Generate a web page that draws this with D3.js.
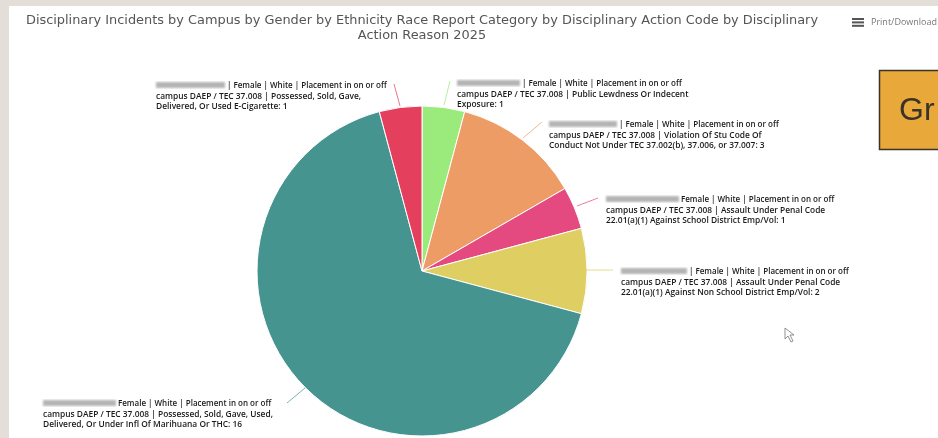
<!DOCTYPE html>
<html>
<head>
<meta charset="utf-8">
<script src="https://cdn.jsdelivr.net/npm/d3@7"></script>
<style>
html, body { margin: 0; padding: 0; background: #e3dfd8; overflow: hidden; }
svg { display: block; filter: blur(0.4px); }
</style>
</head>
<body>
<div id="canvas"></div>
<script>
const canvWidth = 938, canvHeight = 438;

const titleLines = [
    "Disciplinary Incidents by Campus by Gender by Ethnicity Race Report Category by Disciplinary Action Code by Disciplinary",
    "Action Reason 2025"
];

// slices, clockwise from 12 o'clock
const reasons = [
    "Public Lewdness Or Indecent Exposure",
    "Violation Of Stu Code Of Conduct Not Under TEC 37.002(b), 37.006, or 37.007",
    "Assault Under Penal Code 22.01(a)(1) Against School District Emp/Vol",
    "Assault Under Penal Code 22.01(a)(1) Against Non School District Emp/Vol",
    "Possessed, Sold, Gave, Used, Delivered, Or Under Infl Of Marihuana Or THC",
    "Possessed, Sold, Gave, Delivered, Or Used E-Cigarette"
];
const counts = [1, 3, 1, 2, 16, 1];
const colors = ["#9aea7c", "#ec9c64", "#e4497f", "#dfce62", "#459490", "#e43f5c"];

const labelLines = [
    ["| Female | White | Placement in on or off", "campus DAEP / TEC 37.008 | Public Lewdness Or Indecent", "Exposure: 1"],
    ["| Female | White | Placement in on or off", "campus DAEP / TEC 37.008 | Violation Of Stu Code Of", "Conduct Not Under TEC 37.002(b), 37.006, or 37.007: 3"],
    ["Female | White | Placement in on or off", "campus DAEP / TEC 37.008 | Assault Under Penal Code", "22.01(a)(1) Against School District Emp/Vol: 1"],
    ["| Female | White | Placement in on or off", "campus DAEP / TEC 37.008 | Assault Under Penal Code", "22.01(a)(1) Against Non School District Emp/Vol: 2"],
    ["Female | White | Placement in on or off", "campus DAEP / TEC 37.008 | Possessed, Sold, Gave, Used,", "Delivered, Or Under Infl Of Marihuana Or THC: 16"],
    ["| Female | White | Placement in on or off", "campus DAEP / TEC 37.008 | Possessed, Sold, Gave,", "Delivered, Or Used E-Cigarette: 1"]
];

// where each label sits and how wide its blurred campus name is
const labelPos = [
    {x: 457, y: 86, blur: 63, end: [444, 105], mid: [450, 81]},
    {x: 549, y: 127, blur: 68, end: [523, 138], mid: [542, 122]},
    {x: 606, y: 202, blur: 73, end: [577, 206], mid: [598, 198]},
    {x: 621, y: 274, blur: 66, end: [585, 270], mid: [613, 270]},
    {x: 43, y: 406, blur: 73, end: [305, 388], mid: [287, 403]},
    {x: 156, y: 88, blur: 69, end: [400, 106], mid: [394, 84]}
];

const svg = d3.select("#canvas").append("svg")
    .attr("width", canvWidth)
    .attr("height", canvHeight);

const defs = svg.append("defs");
defs.append("filter").attr("id", "smear")
    .append("feGaussianBlur").attr("stdDeviation", 1.2);

// white panel on the beige page
svg.append("rect")
    .attr("x", 9).attr("y", 6)
    .attr("width", canvWidth - 9).attr("height", canvHeight - 6)
    .attr("fill", "#fff");

svg.append("g").selectAll("text")
    .data(titleLines)
    .enter().append("text")
    .attr("x", 422)
    .attr("y", function (d, i) { return 23.5 + i * 15.5; })
    .attr("text-anchor", "middle")
    .style("font", "12.9px 'DejaVu Sans'")
    .style("fill", "#555")
    .text(function (d) { return d; });

const pie = d3.pie().sort(null).value(function (d) { return d; });
const arc = d3.arc().innerRadius(0).outerRadius(165);
const arcs = pie(counts);

const chart = svg.append("g").attr("transform", "translate(422,271)");

chart.selectAll("path")
    .data(arcs)
    .enter().append("path")
    .attr("d", arc)
    .attr("fill", function (d, i) { return colors[i]; })
    .attr("stroke", "#fff")
    .attr("stroke-width", 1)
    .append("title")
    .text(function (d, i) { return reasons[i]; });

// connector lines
const link = d3.line().curve(d3.curveBasis);
svg.append("g").selectAll("path")
    .data(labelPos)
    .enter().append("path")
    .attr("d", function (d) {
        return link([d.end, [(d.end[0] + d.mid[0]) / 2, (d.end[1] + d.mid[1]) / 2], d.mid]);
    })
    .attr("fill", "none")
    .attr("stroke", function (d, i) { return colors[i]; })
    .attr("stroke-opacity", 0.75)
    .attr("stroke-width", 1);

// labels
const label = svg.append("g").selectAll("g")
    .data(labelPos)
    .enter().append("g")
    .attr("transform", function (d) { return "translate(" + d.x + "," + d.y + ")"; });

label.append("rect")
    .attr("x", 0).attr("y", -6)
    .attr("width", function (d) { return d.blur; })
    .attr("height", 6)
    .attr("fill", "#b4b4b4")
    .attr("filter", "url(#smear)");

label.each(function (d, i) {
    d3.select(this).selectAll("text")
        .data(labelLines[i])
        .enter().append("text")
        .attr("x", function (t, j) { return j == 0 ? d.blur + 2 : 0; })
        .attr("y", function (t, j) { return j * 10.5; })
        .style("font", function (t, j) { return "600 " + (j == 0 ? 8 : 8.4) + "px 'Open Sans'"; })
        .style("fill", "#1a1a1a")
        .text(function (t) { return t; });
});

// export menu
svg.append("g").selectAll("rect")
    .data([0, 1, 2])
    .enter().append("rect")
    .attr("x", 852)
    .attr("y", function (d) { return 18 + d * 3.4; })
    .attr("width", 12).attr("height", 2)
    .attr("fill", "#555");

svg.append("text")
    .attr("x", 871).attr("y", 25)
    .style("font", "9px 'Open Sans'")
    .style("fill", "#777")
    .text("Print/Download");

// orange button running off the edge
svg.append("rect")
    .attr("x", 879.5).attr("y", 70.5)
    .attr("width", 70).attr("height", 79)
    .attr("fill", "#e8a83a")
    .attr("stroke", "#3a3328")
    .attr("stroke-width", 1.5);

svg.append("text")
    .attr("x", 899).attr("y", 120)
    .style("font", "32px 'Liberation Sans'")
    .style("fill", "#3a3328")
    .text("Gr");

// mouse pointer
svg.append("path")
    .attr("d", "M785 328 L785 339 L788 336 L791 342 L793 341 L790 335 L794 335 Z")
    .attr("fill", "#fff")
    .attr("stroke", "#777")
    .attr("stroke-width", 0.8);
</script>
</body>
</html>
